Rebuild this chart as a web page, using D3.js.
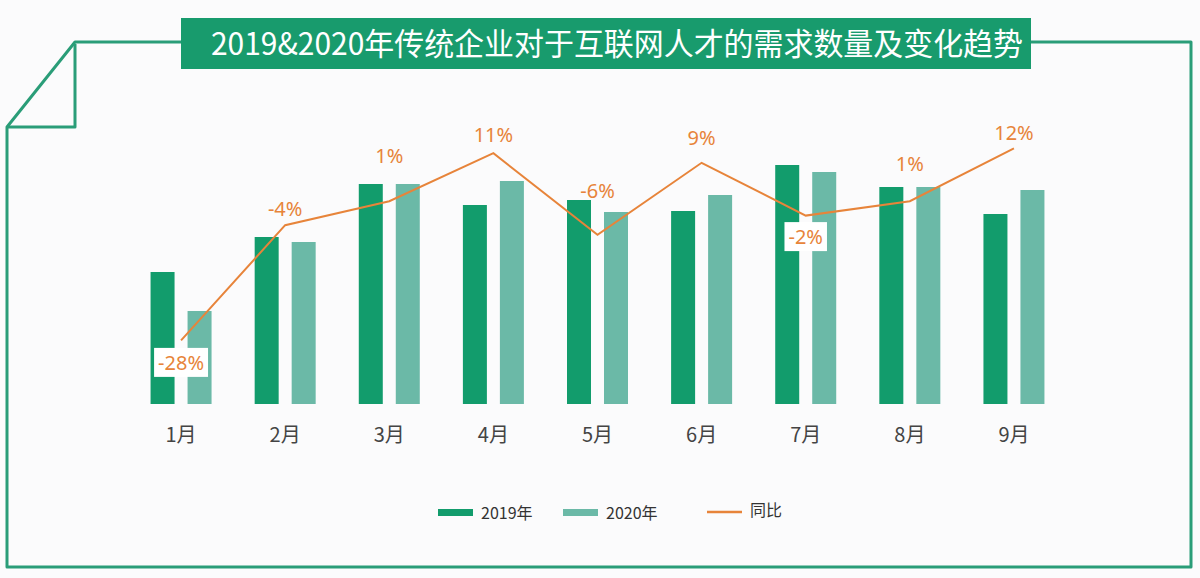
<!DOCTYPE html>
<html><head><meta charset="utf-8">
<script src="https://cdn.jsdelivr.net/npm/d3@7"></script>
<style>
html,body{margin:0;padding:0;background:#fbfbfc;}
svg{display:block;font-family:"Noto Sans CJK SC","Noto Sans",sans-serif;}
</style></head>
<body>
<svg id="chart" width="1200" height="578"></svg>
<script>
const title = "2019&2020年传统企业对于互联网人才的需求数量及变化趋势";
const months = ["1月","2月","3月","4月","5月","6月","7月","8月","9月"];
const values2019 = [132,167,220,199,204,193,239,217,190];
const values2020 = [93,162,220,223,192,209,232,217,214];
const yoy = [-28,-4,1,11,-6,9,-2,1,12];
const yoyLabels = ["-28%","-4%","1%","11%","-6%","9%","-2%","1%","12%"];
const seriesNames = ["2019年","2020年","同比"];

// layout (label offsets relative to line point, px)
const labelDy = [22,-17,-46,-19,-44,-25,21,-38,-16];
const labelBg = [true,false,false,false,false,false,true,false,false];

const C19 = "#129c6c", C20 = "#6bb9a7", CL = "#e7843a", FRAME = "#2a9d78";

const svg = d3.select("#chart");
svg.append("rect").attr("width",1200).attr("height",578).attr("fill","#fbfbfc");

// frame
const fg = svg.append("g").attr("fill","none").attr("stroke",FRAME).attr("stroke-width",3).attr("stroke-linejoin","round");
fg.append("path").attr("d","M75,42 L1191,42 L1191,567 L7,567 L7,127 L75,42 Z");
fg.append("path").attr("d","M75,44 L75,127 L7,127");

// title
svg.append("rect").attr("x",181).attr("y",18).attr("width",850).attr("height",51).attr("fill","#189b6d");
svg.append("text").attr("x",211).attr("y",55).attr("fill","#fff").attr("font-size",31)
  .attr("textLength",812).attr("lengthAdjust","spacingAndGlyphs").text(title);

// scales
const x = d3.scaleBand().domain(months).range([129,1066]).paddingInner(0).paddingOuter(0);
const y = d3.scaleLinear().domain([0,250]).range([404,154]);
const y2 = d3.scaleLinear().domain([-30,15]).range([350,134]);
const bw = 24, gap = 13;
const cx = m => x(m) + x.bandwidth()/2;

const g = svg.append("g");
g.selectAll("rect.b19").data(months).join("rect").attr("class","b19")
  .attr("x",m=>cx(m)-gap/2-bw).attr("width",bw)
  .attr("y",(m,i)=>y(values2019[i])).attr("height",(m,i)=>y(0)-y(values2019[i])).attr("fill",C19);
g.selectAll("rect.b20").data(months).join("rect").attr("class","b20")
  .attr("x",m=>cx(m)+gap/2).attr("width",bw)
  .attr("y",(m,i)=>y(values2020[i])).attr("height",(m,i)=>y(0)-y(values2020[i])).attr("fill",C20);

// x axis labels
const xa = d3.axisBottom(x).tickSize(0).tickPadding(0);
const ax = svg.append("g").attr("transform","translate(0,427)").call(xa);
ax.select(".domain").remove();
ax.selectAll("text").attr("font-size",20).attr("fill","#444").attr("font-family","\"Noto Sans CJK SC\",sans-serif").attr("dy","0.75em");

// line
const line = d3.line().x((d,i)=>cx(months[i])).y(d=>y2(d));
svg.append("path").datum(yoy).attr("d",line).attr("fill","none").attr("stroke",CL).attr("stroke-width",2);

// labels
const lg = svg.append("g");
yoy.forEach((v,i)=>{
  const px = cx(months[i]), py = y2(v) + labelDy[i];
  const t = lg.append("text").attr("x",px).attr("y",py).attr("text-anchor","middle").attr("dominant-baseline","central")
    .attr("font-size",20).attr("fill",CL).attr("font-family","\"Noto Sans\",sans-serif").text(yoyLabels[i]);
  if(labelBg[i]){
    const bb = t.node().getBBox();
    lg.insert("rect","text").attr("x",bb.x-4).attr("y",bb.y-1).attr("width",bb.width+8).attr("height",bb.height+2).attr("fill","#fff");
  }
});
lg.selectAll("text").raise();

// legend
const leg = svg.append("g").attr("font-size",16).attr("fill","#333");
leg.append("rect").attr("x",438).attr("y",509).attr("width",35).attr("height",7).attr("fill",C19);
leg.append("text").attr("x",481).attr("y",512).attr("dominant-baseline","central").text(seriesNames[0]);
leg.append("rect").attr("x",563).attr("y",509).attr("width",35).attr("height",7).attr("fill",C20);
leg.append("text").attr("x",606).attr("y",512).attr("dominant-baseline","central").text(seriesNames[1]);
leg.append("line").attr("x1",707).attr("x2",742).attr("y1",512).attr("y2",512).attr("stroke",CL).attr("stroke-width",2.5);
leg.append("text").attr("x",750).attr("y",509).attr("dominant-baseline","central").text(seriesNames[2]);
</script>
</body></html>
